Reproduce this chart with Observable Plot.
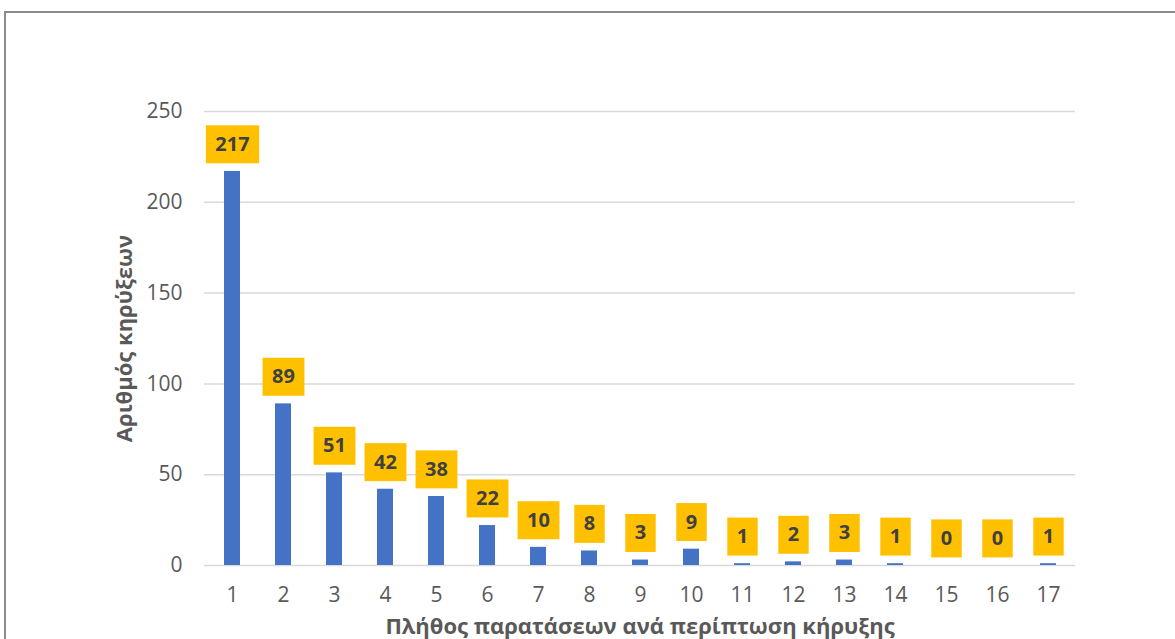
<!DOCTYPE html>
<html>
<head>
<meta charset="utf-8">
<script src="https://cdn.jsdelivr.net/npm/d3@7"></script>
<script src="https://cdn.jsdelivr.net/npm/@observablehq/plot@0.6"></script>
<style>
  html, body { margin: 0; padding: 0; background: #fff; overflow: hidden; }
  #frame { position: absolute; left: 4px; top: 11px; width: 1190px; height: 660px;
           border: 2px solid #8a8a8a; box-sizing: border-box; }
  #chart { position: absolute; left: 0; top: 0; }
</style>
</head>
<body>
<div id="frame"><div id="chart"></div></div>
<script>
const categories = [1, 2, 3, 4, 5, 6, 7, 8, 9, 10, 11, 12, 13, 14, 15, 16, 17];
const values = [217, 89, 51, 42, 38, 22, 10, 8, 3, 9, 1, 2, 3, 1, 0, 0, 1];
const yTicks = [0, 50, 100, 150, 200, 250];
const xTitle = "Πλήθος παρατάσεων ανά περίπτωση κήρυξης";
const yTitle = "Αριθμός κηρύξεων";

const data = categories.map((c, i) => ({cat: c, value: values[i]}));
const font = "'Open Sans', 'DejaVu Sans', sans-serif";

const chart = Plot.plot({
  width: 1169,
  height: 646,
  marginLeft: 198,
  marginRight: 100,
  marginTop: 98,
  marginBottom: 94,
  style: {fontFamily: font, fontSize: "21px", color: "#595959", background: "transparent", overflow: "visible"},
  x: {domain: categories, paddingInner: 0.69, paddingOuter: 0.345, label: null},
  y: {domain: [0, 250], label: null},
  marks: [
    Plot.gridY(yTicks, {stroke: "#d9d9d9", strokeOpacity: 1, strokeWidth: 1.5}),
    Plot.axisY(yTicks, {tickSize: 0, tickPadding: 22, label: null, fill: "#595959"}),
    Plot.axisX({tickSize: 0, tickPadding: 22, label: null, fill: "#595959"}),
    Plot.barY(data, {x: "cat", y: "value", fill: "#4472C4"}),
    Plot.text(data, {x: "cat", y: "value", text: d => String(d.value), dy: -27,
      fontWeight: "bold", fontSize: 20, fill: "#404040"}),
    Plot.text([xTitle], {frameAnchor: "bottom", dy: 61, lineAnchor: "middle", textAnchor: "middle",
      fontWeight: "bold", fontSize: 22, fill: "#595959"}),
    Plot.text([yTitle], {frameAnchor: "left", dx: -80, rotate: -90, textAnchor: "middle", lineAnchor: "middle",
      fontWeight: "bold", fontSize: 22, fill: "#595959"})
  ]
});
document.getElementById("chart").appendChild(chart);

// yellow label boxes behind the data labels (first text mark = data labels)
const g = chart.querySelectorAll('g[aria-label="text"]')[0];
if (g) {
  const texts = Array.from(g.querySelectorAll("text"));
  texts.forEach(t => {
    const bb = t.getBBox();
    const cx = bb.x + bb.width / 2, cy = bb.y + bb.height / 2;
    const w = bb.width + 19, h = 38;
    const r = document.createElementNS("http://www.w3.org/2000/svg", "rect");
    r.setAttribute("x", cx - w / 2);
    r.setAttribute("y", cy - h / 2 + 1);
    r.setAttribute("width", w);
    r.setAttribute("height", h);
    r.setAttribute("fill", "#FFC000");
    const tr = t.getAttribute("transform");
    if (tr) r.setAttribute("transform", tr);
    g.insertBefore(r, g.firstChild);
  });
}
</script>
</body>
</html>
